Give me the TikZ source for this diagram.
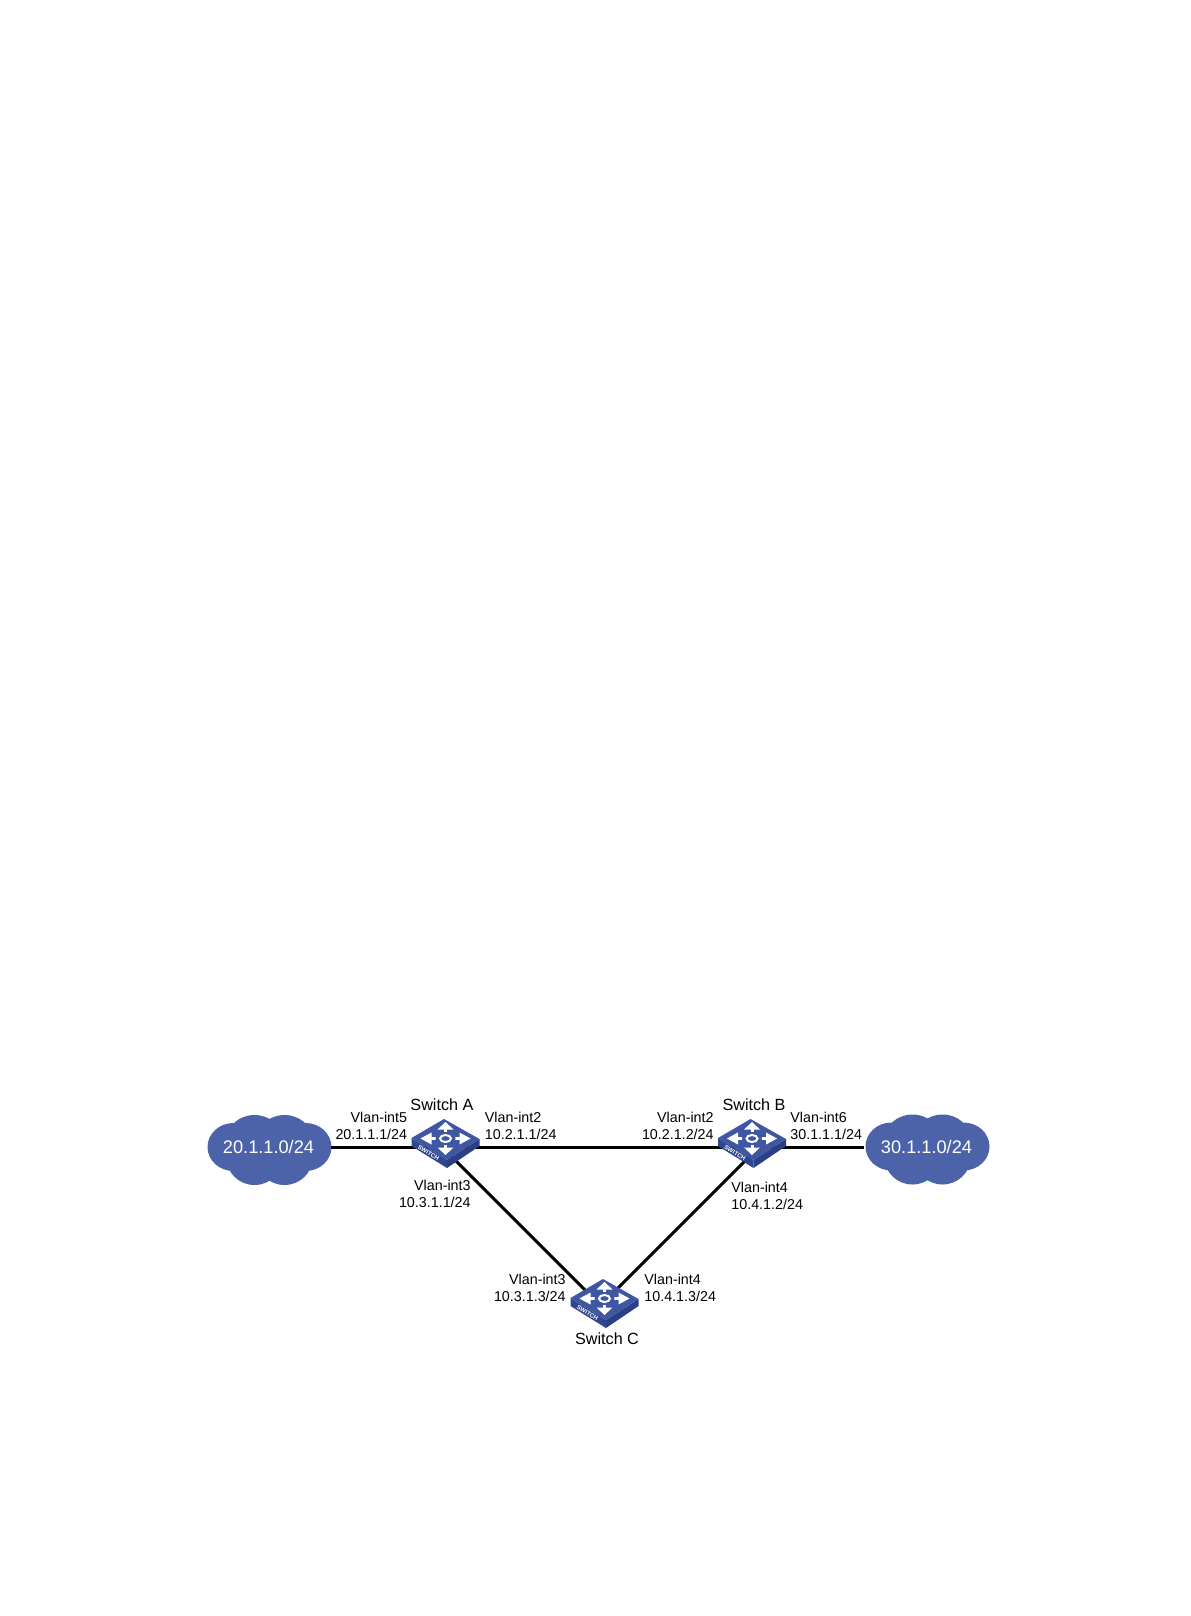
\documentclass[tikz,border=0pt]{standalone}
\usepackage{fontspec}
\setmainfont{Liberation Sans}
\usetikzlibrary{backgrounds}
\definecolor{cloudbl}{HTML}{4C63A9}
\definecolor{swtop}{HTML}{3F56A2}
\definecolor{swfront}{HTML}{2F4690}
\definecolor{swside}{HTML}{2A3F84}

\begin{document}
\begin{tikzpicture}[x=0.5pt,y=-0.5pt,font=\fontsize{7.15}{8.5}\selectfont,
  netlab/.style={text=white,font=\fontsize{9.1}{11}\selectfont,minimum width=62pt,
                 inner sep=0pt},
  swlab/.style={font=\fontsize{8.1}{10}\selectfont,inner sep=0pt},
  ifleft/.style={anchor=east,align=right,inner sep=0pt},
  ifright/.style={anchor=west,align=left,inner sep=0pt},
  swdot/.style={inner sep=0pt,minimum size=0pt},
  link/.style={draw=black,line width=1.5pt},
  swtag/.style={text=white,font=\fontsize{3}{3}\bfseries\selectfont,inner sep=0pt,rotate=-31},
  pics/netcloud/.style={code={
    \fill[cloudbl] (-15,-8) ellipse [x radius=28,y radius=25]
      (15,-8) ellipse [x radius=28,y radius=25]
      (-15,10) ellipse [x radius=28,y radius=27]
      (15,10) ellipse [x radius=28,y radius=27]
      (-36,-1) ellipse [x radius=26,y radius=24]
      (36,-1) ellipse [x radius=26,y radius=24];}},
  pics/switchicon/.style={code={
    \fill[swfront] (-34,-2) -- (-34,6) -- (1.5,28) -- (1.5,20) -- cycle;
    \fill[swside] (1.5,20) -- (1.5,28) -- (34,6) -- (34,-1) -- cycle;
    \fill[swtop] (-1.5,-21) -- (34,-1) -- (1.5,20) -- (-34,-2) -- cycle;
    \draw[white,line width=1.5pt] (-20,-1.5) -- (20,-1.5) (0,-13) -- (0,10);
    \fill[white] (-25,-1.5) -- (-14,-7.5) -- (-14,4.5) -- cycle
      (25,-1.5) -- (14,-7.5) -- (14,4.5) -- cycle
      (0,-18) -- (-8,-10.5) -- (8,-10.5) -- cycle
      (0,15) -- (-8,7.5) -- (8,7.5) -- cycle;
    \fill[swtop] (0,-1.5) ellipse [x radius=10,y radius=6.5];
    \draw[white,line width=1pt] (0,-1.5) ellipse [x radius=5.5,y radius=3.5];
    \node[swtag] (tag) at (-17,13) {SWITCH};}}]

\useasboundingbox (0,0) rectangle (1190,1616);

% ---------------- the two networks and the switch positions --------------
\node[netlab] (netA) at (268.5,1147) {20.1.1.0/24};
\node[netlab] (netB) at (926.5,1147) {30.1.1.0/24};
\node[swdot] (swA) at (442,1147) {};
\node[swdot] (swB) at (759,1147) {};
\node[swdot] (swC) at (600.5,1305.5) {};

% ---------------- links, drawn under the switch icons ---------------------
\draw[link] (netA) -- (swA);
\draw[link] (swA) -- (swB);
\draw[link] (swB) -- (netB);
\draw[link] (swA) -- (swC);
\draw[link] (swB) -- (swC);

\begin{scope}[on background layer]
  \pic (cloudA) at (269.5,1148) {netcloud};
  \pic (cloudB) at (927.5,1147.5) {netcloud};
\end{scope}

\pic (iconA) at (445.5,1140) {switchicon};
\pic (iconB) at (752,1140) {switchicon};
\pic (iconC) at (604.5,1300) {switchicon};

\node[swlab] (nameA) at (442,1105) {Switch A};
\node[swlab] (nameB) at (754,1105) {Switch B};
\node[swlab] (nameC) at (607,1339) {Switch C};

% ---------------- interface labels ----------------------------------------
\node[ifleft] (ifA5) at (407.5,1125.5) {Vlan-int5\\20.1.1.1/24};
\node[ifright] (ifA2) at (484.5,1125.5) {Vlan-int2\\10.2.1.1/24};
\node[ifleft] (ifA3) at (471,1193.5) {Vlan-int3\\10.3.1.1/24};
\node[ifleft] (ifB2) at (714,1125.5) {Vlan-int2\\10.2.1.2/24};
\node[ifright] (ifB6) at (790,1125.5) {Vlan-int6\\30.1.1.1/24};
\node[ifright] (ifB4) at (731,1196) {Vlan-int4\\10.4.1.2/24};
\node[ifleft] (ifC3) at (566,1287.5) {Vlan-int3\\10.3.1.3/24};
\node[ifright] (ifC4) at (644,1287.5) {Vlan-int4\\10.4.1.3/24};

\end{tikzpicture}
\end{document}
